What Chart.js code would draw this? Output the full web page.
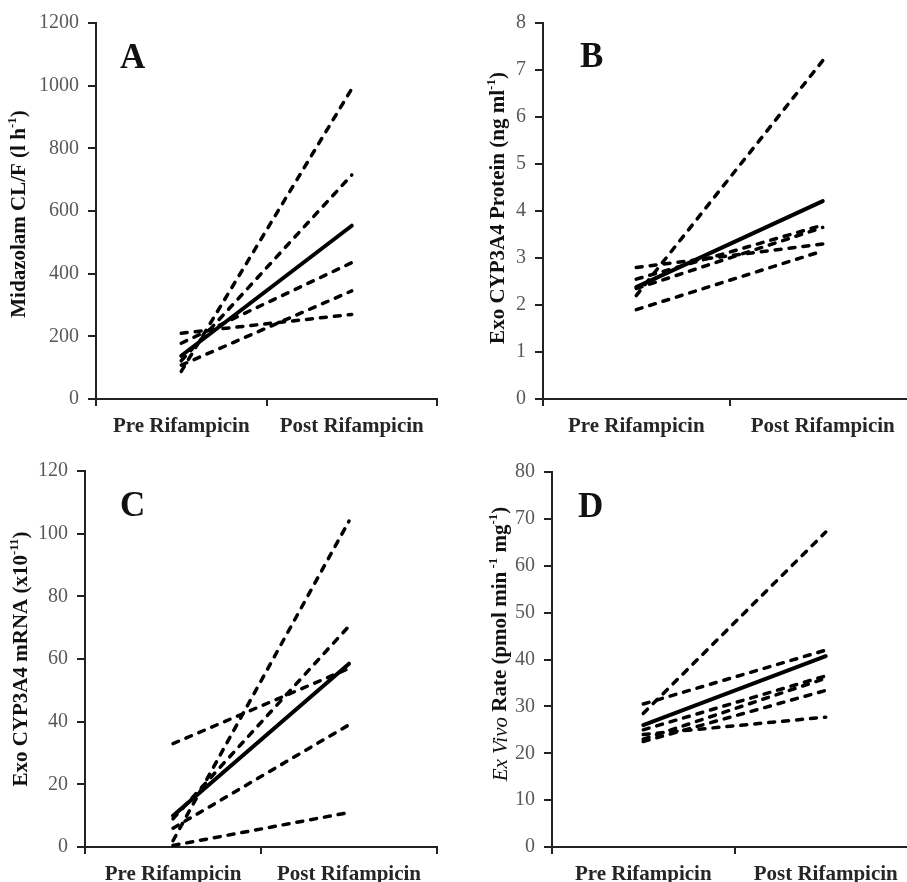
<!DOCTYPE html>
<html>
<head>
<meta charset="utf-8">
<script src="https://cdn.jsdelivr.net/npm/chart.js@4"></script>
<style>
  html, body { margin: 0; padding: 0; background: #fff; overflow: hidden; }
  #wrap { position: relative; width: 907px; height: 882px; overflow: hidden; }
  #wrap canvas { position: absolute; left: 0; top: 0; }
</style>
</head>
<body>
<div id="wrap">
  <canvas id="chartA" width="930" height="910"></canvas>
  <canvas id="chartB" width="930" height="910"></canvas>
  <canvas id="chartC" width="930" height="910"></canvas>
  <canvas id="chartD" width="930" height="910"></canvas>
</div>
<script>
const categories = ['Pre Rifampicin', 'Post Rifampicin'];

// A: midazolam CL/F, each pair = [pre, post]
const midazolamSubjects = [[210, 270], [178, 435], [122, 715], [108, 345], [88, 990]];
const midazolamMean = [138, 553];
const midazolamAxis = [0, 1200, 200];

// B: exosomal CYP3A4 protein
const proteinSubjects = [[2.8, 3.3], [2.55, 3.7], [2.35, 3.65], [2.2, 7.2], [1.9, 3.15]];
const proteinMean = [2.38, 4.21];
const proteinAxis = [0, 8, 1];

// C: exosomal CYP3A4 mRNA
const mrnaSubjects = [[33, 57], [9, 70.5], [6, 39], [2, 104], [0.5, 11]];
const mrnaMean = [10, 58.5];
const mrnaAxis = [0, 120, 20];

// D: ex vivo rate
const exVivoSubjects = [[30.5, 42], [28.5, 67.2], [25, 36.5], [24, 27.7], [23, 36], [22.5, 33.4]];
const exVivoMean = [26, 40.7];
const exVivoAxis = [0, 80, 10];

const SERIF = '"Liberation Serif", "Times New Roman", serif';
const CW = 930, CH = 910, Y_W = 60, X_H = 50;

// draws the panel letter and the rotated y title (needs italic + superscripts)
const panelText = {
  id: 'panelText',
  afterDraw(chart, args, o) {
    const ctx = chart.ctx;
    ctx.save();
    ctx.fillStyle = '#111';
    ctx.font = 'bold 35px ' + SERIF;
    ctx.textBaseline = 'alphabetic';
    ctx.textAlign = 'left';
    ctx.fillText(o.letter, o.lx, o.ly);

    const size = 21;
    const fontOf = p => (p.italic ? 'italic ' : 'bold ') + (p.sup ? Math.round(size * 0.62) : size) + 'px ' + SERIF;
    let total = 0;
    o.title.forEach(p => { ctx.font = fontOf(p); total += ctx.measureText(p.t).width; });
    ctx.translate(o.tx, o.ty);
    ctx.rotate(-Math.PI / 2);
    ctx.textBaseline = 'middle';
    let x = -total / 2;
    o.title.forEach(p => {
      ctx.font = fontOf(p);
      ctx.fillText(p.t, x, p.sup ? -size * 0.33 : 0);
      x += ctx.measureText(p.t).width;
    });
    ctx.restore();
  }
};

function makePanel(id, subjects, mean, axis, area, text) {
  const datasets = subjects.map(s => ({
    data: s,
    borderColor: '#000',
    borderWidth: 3.5,
    borderDash: [6, 8],
    borderCapStyle: 'round',
    pointRadius: 0,
    fill: false
  }));
  datasets.push({
    data: mean,
    borderColor: '#000',
    borderWidth: 4,
    borderCapStyle: 'round',
    pointRadius: 0,
    fill: false
  });

  new Chart(document.getElementById(id), {
    type: 'line',
    data: { labels: categories, datasets: datasets },
    options: {
      responsive: false,
      devicePixelRatio: 1,
      animation: false,
      events: [],
      layout: {
        padding: {
          left: area[0] - Y_W,
          top: area[1],
          right: CW - area[2],
          bottom: CH - area[3] - X_H
        }
      },
      plugins: {
        legend: { display: false },
        tooltip: { enabled: false },
        panelText: text
      },
      scales: {
        x: {
          offset: true,
          grid: { offset: true, drawOnChartArea: false, tickLength: 7, color: '#222', lineWidth: 2 },
          border: { color: '#222', width: 2 },
          ticks: { font: { family: SERIF, size: 21, weight: 'bold' }, color: '#262626', padding: 8, maxRotation: 0 },
          afterFit: s => { s.height = X_H; }
        },
        y: {
          min: axis[0],
          max: axis[1],
          grid: { drawOnChartArea: false, tickLength: 8, color: '#222', lineWidth: 2 },
          border: { color: '#222', width: 2 },
          ticks: { stepSize: axis[2], font: { family: SERIF, size: 20 }, color: '#595959', padding: 9, callback: v => String(v) },
          afterFit: s => { s.width = Y_W; }
        }
      }
    },
    plugins: [panelText]
  });
}

makePanel('chartA', midazolamSubjects, midazolamMean, midazolamAxis, [96, 23, 437, 399], {
  letter: 'A', lx: 120, ly: 68, tx: 20, ty: 214,
  title: [{ t: 'Midazolam CL/F (l h' }, { t: '-1', sup: true }, { t: ')' }]
});
makePanel('chartB', proteinSubjects, proteinMean, proteinAxis, [543, 23, 916, 399], {
  letter: 'B', lx: 580, ly: 67, tx: 499, ty: 208,
  title: [{ t: 'Exo CYP3A4 Protein (ng ml' }, { t: '-1', sup: true }, { t: ')' }]
});
makePanel('chartC', mrnaSubjects, mrnaMean, mrnaAxis, [85, 471, 437, 847], {
  letter: 'C', lx: 120, ly: 516, tx: 22, ty: 659,
  title: [{ t: 'Exo CYP3A4 mRNA (x10' }, { t: '-11', sup: true }, { t: ')' }]
});
makePanel('chartD', exVivoSubjects, exVivoMean, exVivoAxis, [552, 472, 917, 847], {
  letter: 'D', lx: 578, ly: 517, tx: 501, ty: 644,
  title: [{ t: 'Ex Vivo', italic: true }, { t: ' Rate (pmol min' }, { t: ' -1', sup: true }, { t: ' mg' }, { t: '-1', sup: true }, { t: ')' }]
});
</script>
</body>
</html>
